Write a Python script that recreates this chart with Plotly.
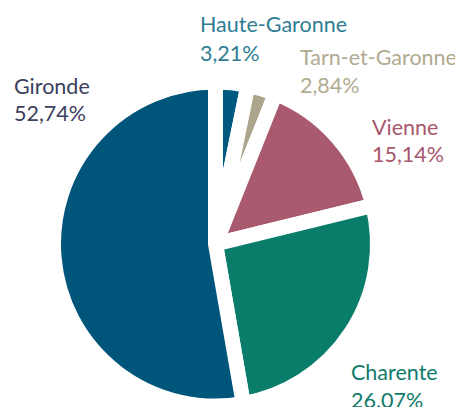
import plotly.graph_objects as go

labels = ["Haute-Garonne", "Tarn-et-Garonne", "Vienne", "Charente", "Gironde"]
values = [3.21, 2.84, 15.14, 26.07, 52.74]
pct_labels = ["3,21%", "2,84%", "15,14%", "26.07%", "52,74%"]
slice_colors = ["#005a80", "#aaa58b", "#a95a6e", "#0a7c6a", "#00557a"]
text_colors = ["#2e7d94", "#b1aa90", "#a8576c", "#0f7a6b", "#3b405d"]

W, H = 463, 407
OFF = 8  # page body margin
# label positions in screen pixels: (left x, middle of name line, middle of value line)
label_pos = [(200, 24, 53), (300, 56.5, 85), (372, 126.5, 154), (351, 372, 400), (14, 85.5, 112.5)]

cx, cy, r = 215.5 - OFF, 244 - OFF, 162

fig = go.Figure()
fig.add_trace(go.Pie(
    labels=labels,
    values=values,
    sort=False,
    direction="clockwise",
    rotation=0,
    textinfo="none",
    hoverinfo="skip",
    marker=dict(colors=slice_colors, line=dict(color="white", width=15)),
    domain=dict(x=[(cx - r) / W, (cx + r) / W], y=[1 - (cy + r) / H, 1 - (cy - r) / H]),
    showlegend=False,
))

for lab, pct, col, (px, py1, py2) in zip(labels, pct_labels, text_colors, label_pos):
    for txt, py in ((lab, py1), (pct, py2)):
        fig.add_annotation(
            x=(px - OFF) / W, y=1 - (py - OFF) / H, xref="paper", yref="paper",
            xanchor="left", yanchor="middle", align="left",
            text=txt, showarrow=False, xshift=-2,
            font=dict(family="Lato", size=21.5, color=col),
        )

fig.update_layout(
    width=W, height=H,
    margin=dict(l=0, r=0, t=0, b=0),
    paper_bgcolor="white", plot_bgcolor="white",
)
fig.write_html("out.html")
